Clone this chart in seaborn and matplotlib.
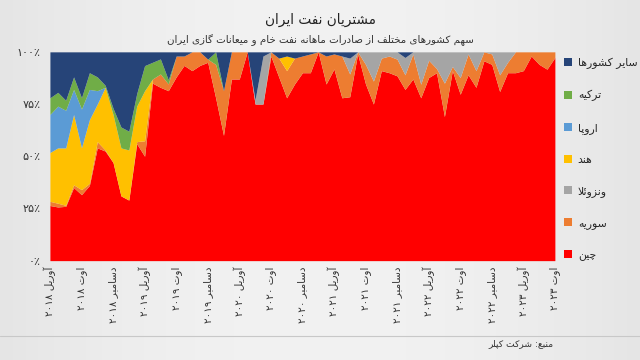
"""Iran oil customers: 100% stacked area of monthly export shares."""

import re
import numpy as np
import pandas as pd
import matplotlib
matplotlib.use("Agg")
import matplotlib.pyplot as plt
from matplotlib.patches import Patch
import seaborn as sns

# monthly shares (%), April 2018 .. August 2023
china = [26.4, 25.7, 26, 35, 31.6, 36, 54, 52.5, 47, 31, 29, 56, 50, 85, 83, 81.4,
         88, 93.5, 91, 93.5, 95, 78, 60, 87, 87, 100, 75, 75, 98, 88, 78, 84.6,
         90, 90, 100, 84.6, 91.8, 78, 78.5, 99, 84.6, 75, 91, 90, 88.5, 82,
         87, 78, 87.7, 90, 69, 91, 79.7, 89, 83, 95.7, 94, 81, 90, 90, 91,
         98, 94, 91.7, 97.3]
syria = [2, 1.8, 0.5, 1.3, 2.4, 1, 3, 0.5, 0, 0, 0, 1, 7.4, 2, 6.4, 3.2,
         10, 4.5, 9, 6.5, 1.5, 16, 21.4, 13, 13, 0, 0, 0, 2, 9, 13, 12.4,
         8, 9, 0, 13.4, 7.2, 20, 10.9, 1, 9.4, 11, 6, 8, 8, 7,
         12, 6.5, 8.3, 2, 16, 2, 8, 10, 8, 4.3, 5, 8, 5, 10, 9,
         2, 6, 8.3, 2.7]
venezuela = [0, 0, 0, 0, 0, 0, 0, 0, 0, 0, 0, 0, 0, 0, 0, 0,
             0, 0, 0, 0, 0, 0, 0, 0, 0, 0, 2, 23, 0, 0, 0, 0,
             0, 0, 0, 0, 0, 0, 7.6, 0, 6, 14, 3, 2, 3.5, 8.3,
             1, 15.5, 4, 8, 15, 7, 12.3, 1, 9, 0, 1, 11, 5, 0, 0,
             0, 0, 0, 0]
india = [23.4, 26.5, 27.5, 33.7, 20, 30.5, 18, 30, 23, 23, 24, 17, 24, 0, 0, 0,
         0, 0, 0, 0, 0, 0, 0, 0, 0, 0, 0, 0, 0, 0, 7, 0,
         0, 0, 0, 0, 0, 0, 0, 0, 0, 0, 0, 0, 0, 0,
         0, 0, 0, 0, 0, 0, 0, 0, 0, 0, 0, 0, 0, 0, 0,
         0, 0, 0, 0]
europe = [18.2, 20, 18, 12, 18.6, 14.5, 6.4, 0, 0, 0, 0, 0, 0, 0, 0, 0,
          0, 0, 0, 0, 0, 0, 0, 0, 0, 0, 0, 0, 0, 0, 0, 0,
          0, 0, 0, 0, 0, 0, 0, 0, 0, 0, 0, 0, 0, 0,
          0, 0, 0, 0, 0, 0, 0, 0, 0, 0, 0, 0, 0, 0, 0,
          0, 0, 0, 0]
turkey = [8, 6.6, 4.8, 6, 5.4, 8, 6.6, 1, 3, 10, 9, 6, 12, 8, 7.2, 2,
          0, 0, 0, 0, 0, 6, 0, 0, 0, 0, 0, 0, 0, 0, 0, 0,
          0, 0, 0, 0, 0, 0, 0, 0, 0, 0, 0, 0, 0, 0,
          0, 0, 0, 0, 0, 0, 0, 0, 0, 0, 0, 0, 0, 0, 0,
          0, 0, 0, 0]
others = [22, 19.4, 23.2, 12, 22, 10, 12, 16, 27, 36, 38, 20, 6.6, 5, 3.4, 13.4,
          2, 2, 0, 0, 3.5, 0, 18.6, 0, 0, 0, 23, 2, 0, 3, 2, 3,
          2, 1, 0, 2, 1, 2, 3, 0, 0, 0, 0, 0, 0, 2.7,
          0, 0, 0, 0, 0, 0, 0, 0, 0, 0, 0, 0, 0, 0, 0,
          0, 0, 0, 0]

series_names = ["چین", "سوریه", "ونزوئلا", "هند", "اروپا", "ترکیه", "سایر کشورها"]
colors = ["#FF0000", "#ED7D31", "#A5A5A5", "#FFC000", "#5B9BD5", "#70AD47", "#264478"]

tick_labels = ["آوریل ۲۰۱۸", "اوت ۲۰۱۸", "دسامبر ۲۰۱۸",
               "آوریل ۲۰۱۹", "اوت ۲۰۱۹", "دسامبر ۲۰۱۹",
               "آوریل ۲۰۲۰", "اوت ۲۰۲۰", "دسامبر ۲۰۲۰",
               "آوریل ۲۰۲۱", "اوت ۲۰۲۱", "دسامبر ۲۰۲۱",
               "آوریل ۲۰۲۲", "اوت ۲۰۲۲", "دسامبر ۲۰۲۲",
               "آوریل ۲۰۲۳", "اوت ۲۰۲۳"]
y_labels = ["۰٪", "۲۵٪", "۵۰٪", "۷۵٪", "۱۰۰٪"]

# --- minimal Persian shaping (matplotlib has no RTL/joining support) ---
# letter: (isolated, final, initial, medial); right-joining letters have 2 forms
FORMS = {
    "ا": ("\uFE8D", "\uFE8E"), "آ": ("\uFE81", "\uFE82"),
    "د": ("\uFEA9", "\uFEAA"), "ر": ("\uFEAD", "\uFEAE"),
    "ز": ("\uFEAF", "\uFEB0"), "و": ("\uFEED", "\uFEEE"),
    "ب": ("\uFE8F", "\uFE90", "\uFE91", "\uFE92"),
    "پ": ("\uFB56", "\uFB57", "\uFB58", "\uFB59"),
    "ت": ("\uFE95", "\uFE96", "\uFE97", "\uFE98"),
    "چ": ("\uFB7A", "\uFB7B", "\uFB7C", "\uFB7D"),
    "خ": ("\uFEA5", "\uFEA6", "\uFEA7", "\uFEA8"),
    "س": ("\uFEB1", "\uFEB2", "\uFEB3", "\uFEB4"),
    "ش": ("\uFEB5", "\uFEB6", "\uFEB7", "\uFEB8"),
    "ص": ("\uFEB9", "\uFEBA", "\uFEBB", "\uFEBC"),
    "ع": ("\uFEC9", "\uFECA", "\uFECB", "\uFECC"),
    "ف": ("\uFED1", "\uFED2", "\uFED3", "\uFED4"),
    "ک": ("\uFB8E", "\uFB8F", "\uFB90", "\uFB91"),
    "گ": ("\uFB92", "\uFB93", "\uFB94", "\uFB95"),
    "ل": ("\uFEDD", "\uFEDE", "\uFEDF", "\uFEE0"),
    "م": ("\uFEE1", "\uFEE2", "\uFEE3", "\uFEE4"),
    "ن": ("\uFEE5", "\uFEE6", "\uFEE7", "\uFEE8"),
    "ه": ("\uFEE9", "\uFEEA", "\uFEEB", "\uFEEC"),
    "ی": ("\uFBFC", "\uFBFD", "\uFBFE", "\uFBFF"),
    "ئ": ("\uFE89", "\uFE8A", "\uFE8B", "\uFE8C"),
}


def shape(text):
    out = []
    prev_links = False
    i = 0
    while i < len(text):
        ch = text[i]
        if ch == "ل" and i + 1 < len(text) and text[i + 1] == "ا":
            out.append("\uFEFC" if prev_links else "\uFEFB")
            prev_links = False
            i += 2
            continue
        if ch not in FORMS:
            out.append(ch)
            prev_links = False
            i += 1
            continue
        f = FORMS[ch]
        nxt = text[i + 1] if i + 1 < len(text) else ""
        next_links = len(f) == 4 and nxt in FORMS
        if prev_links and next_links:
            out.append(f[3])
        elif prev_links:
            out.append(f[1])
        elif next_links:
            out.append(f[2])
        else:
            out.append(f[0])
        prev_links = len(f) == 4
        i += 1
    return "".join(out)


def fa(text):
    vis = shape(text)[::-1]
    return re.sub(r"[0-9۰-۹]+", lambda m: m.group(0)[::-1], vis)


# --- data frame & 100% normalisation ---
df = pd.DataFrame(dict(zip(series_names,
                           [china, syria, venezuela, india, europe, turkey, others])))
shares = df.div(df.sum(axis=1), axis=0) * 100
x = np.arange(len(df))

sns.set_theme(style="white")
plt.rcParams["font.family"] = ["DejaVu Sans"]

fig = plt.figure(figsize=(6.4, 3.6), dpi=100)

# soft grey background gradient
bg = fig.add_axes([0, 0, 1, 1], zorder=-5)
gx = np.linspace(-1, 1, 200)
grad = 0.945 - 0.05 * gx[None, :] ** 2
bg.imshow(np.repeat(grad, 10, axis=0), aspect="auto", cmap="gray", vmin=0, vmax=1,
          extent=[0, 1, 0, 1])
bg.axis("off")

ax = fig.add_axes([0.078, 0.276, 0.789, 0.58])
ax.stackplot(x, *[shares[c].values for c in series_names], colors=colors, linewidth=0)
ax.set_xlim(0, len(df) - 1)
ax.set_ylim(0, 100)
ax.set_facecolor("none")
for s in ax.spines.values():
    s.set_visible(False)

ax.set_xticks(np.arange(0, len(df), 4))
ax.set_xticklabels([fa(t) for t in tick_labels], rotation=90, fontsize=7.5, color="#333333")
ax.set_yticks([0, 25, 50, 75, 100])
ax.set_yticklabels(y_labels, fontsize=8, color="#333333")
ax.tick_params(axis="x", length=0, pad=4)
ax.tick_params(axis="y", length=0, pad=7)

fig.text(0.5, 0.945, fa("مشتریان نفت ایران"), ha="center", va="center",
         fontsize=9.8, color="#222222")
fig.text(0.5, 0.888, fa("سهم کشورهای مختلف از صادرات ماهانه نفت خام و میعانات گازی ایران"),
         ha="center", va="center", fontsize=7.4, color="#333333")

handles = [Patch(facecolor=c, edgecolor="none") for c in colors][::-1]
labels = [fa(n) for n in series_names][::-1]
fig.legend(handles, labels, loc="upper left", bbox_to_anchor=(0.874, 0.852),
           frameon=False, fontsize=7.8, handlelength=0.8, handleheight=0.8,
           handletextpad=0.5, labelspacing=1.95, borderaxespad=0)

fig.add_artist(plt.Line2D([0, 1], [0.068, 0.068], color="#c8c8c8", lw=0.8))
fig.text(0.865, 0.045, fa("منبع: شرکت کپلر"), ha="right", va="center",
         fontsize=6.6, color="#333333")

fig.savefig("out.png", dpi=100)
